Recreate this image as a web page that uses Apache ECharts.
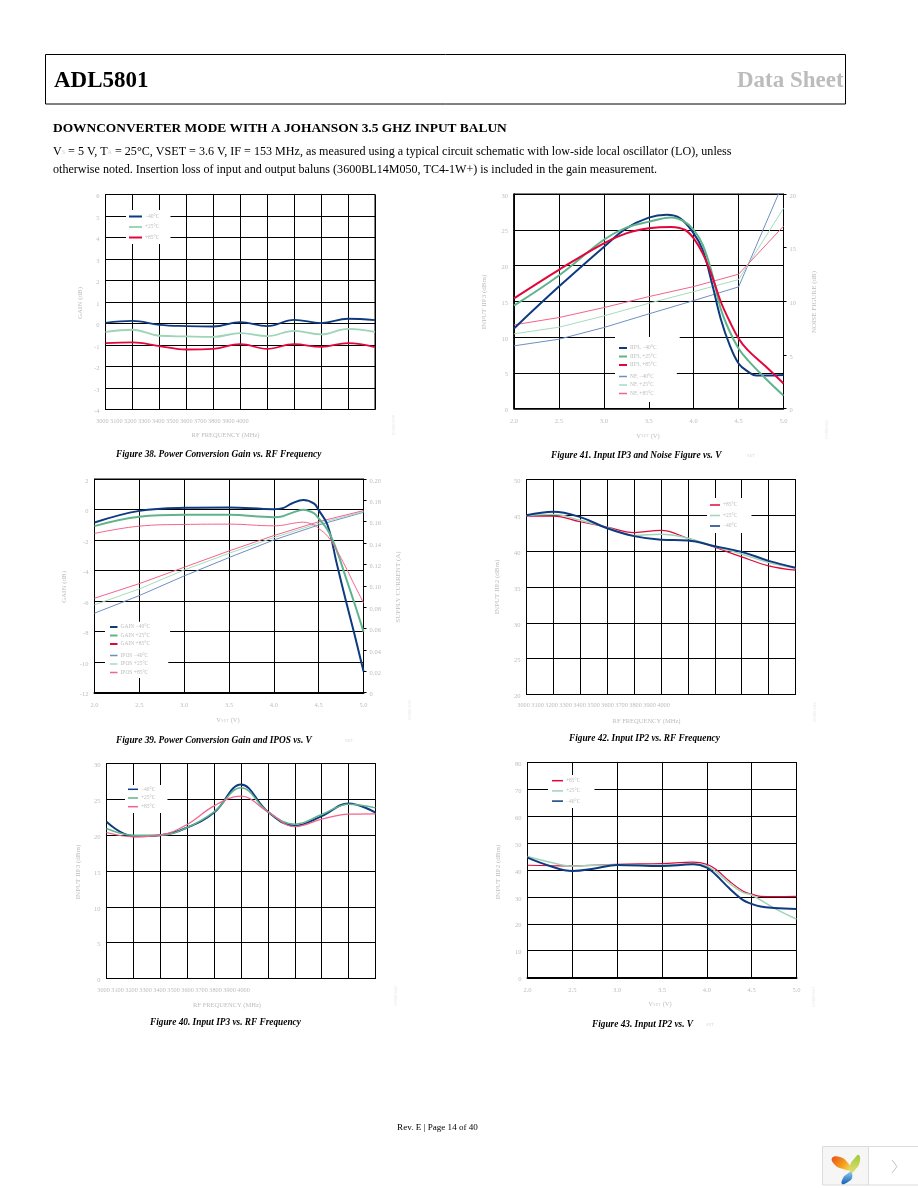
<!DOCTYPE html>
<html><head><meta charset="utf-8"><title>ADL5801 Data Sheet</title>
<style>html,body{margin:0;padding:0;background:#fff}#c{width:918px;height:1188px}</style>
<script src="https://cdn.jsdelivr.net/npm/echarts@6/dist/echarts.min.js"></script>
</head><body><div id="c"></div>
<script>
// ---- Data ----
const freqTicks = [3000,3100,3200,3300,3400,3500,3600,3700,3800,3900,4000];

const gainFreqM40 = [0.03,0.12,-0.06,-0.12,-0.14,0.06,-0.12,0.17,0.02,0.22,0.16];
const gainFreqP25 = [-0.39,-0.29,-0.57,-0.60,-0.62,-0.45,-0.59,-0.34,-0.51,-0.25,-0.39];
const gainFreqP85 = [-0.91,-0.88,-1.05,-1.21,-1.18,-0.96,-1.18,-0.96,-1.09,-0.91,-1.10];

const ip3FreqM40 = [21.86,19.86,20.0,21.07,23.16,27.07,23.26,21.3,22.65,24.42,23.16];
const ip3FreqP25 = [20.93,20.0,20.0,21.07,23.26,26.6,23.26,21.53,22.88,24.33,23.81];
const ip3FreqP85 = [20.37,19.77,20.0,21.49,24.09,25.44,23.26,21.2,22.23,22.93,22.98];

const ip2FreqM40 = [45.0,45.5,44.75,43.2,42.1,41.6,41.5,40.7,39.9,38.65,37.7];
const ip2FreqP25 = [44.95,45.1,44.3,43.3,42.2,42.35,41.8,40.65,39.6,38.4,37.6];
const ip2FreqP85 = [44.9,44.9,44.1,43.35,42.6,42.9,41.8,40.55,39.2,37.95,37.35];

const ip3VsetM40X = [2.0,2.5,3.0,3.25,3.5,3.7,3.85,4.0,4.1,4.2,4.3,4.4,4.5,4.6,4.7,4.8,5.0];
const ip3VsetM40  = [11.2,17.05,22.6,25.2,26.7,27.1,26.6,24.5,22.2,17.7,12.6,8.9,6.3,5.2,4.6,4.6,4.7];
const ip3VsetP25X = [2.0,2.5,3.0,3.25,3.5,3.75,3.9,4.0,4.1,4.2,4.3,4.4,4.5,4.6,4.8,5.0];
const ip3VsetP25  = [14.4,18.6,23.6,25.3,26.1,26.7,26.1,25.0,22.9,19.1,14.0,10.8,8.4,6.8,4.2,1.8];
const ip3VsetP85  = [15.4,19.4,23.1,24.5,25.2,25.4,25.0,23.8,21.7,18.7,15.0,12.2,9.8,8.2,5.9,3.5];
const nfX    = [2.0,2.5,3.0,3.5,4.0,4.5,5.0];
const nfM40  = [5.84,6.46,7.55,8.82,10.06,11.34,21.1];
const nfP25  = [6.96,7.58,8.63,9.81,10.9,12.02,18.66];
const nfP85  = [7.8,8.48,9.41,10.43,11.37,12.52,17.0];

const gainVsetX  = [2.0,2.5,3.0,3.5,4.0,4.1,4.2,4.33,4.45,4.5,4.6,4.7,4.8,4.9,5.0];
const gainVsetM40 = [-0.85,-0.09,0.11,0.13,0.02,0.09,0.39,0.63,0.39,-0.04,-1.03,-3.5,-5.9,-8.2,-10.6];
const gainVsetP25 = [-1.09,-0.48,-0.35,-0.35,-0.5,-0.44,-0.22,-0.02,-0.26,-0.59,-1.35,-2.66,-4.41,-6.16,-8.01];
const gainVsetP85 = [-1.57,-1.09,-0.98,-0.96,-1.07,-1.03,-0.92,-0.83,-1.03,-1.24,-1.75,-2.66,-3.76,-4.96,-6.11];
const iposX   = [2.0,2.5,3.0,3.5,4.0,4.5,5.0];
const iposM40 = [0.0743,0.0908,0.1092,0.1264,0.1429,0.1569,0.1688];
const iposP25 = [0.0821,0.097,0.1148,0.1304,0.1451,0.1585,0.1694];
const iposP85 = [0.0883,0.102,0.1173,0.1326,0.147,0.16,0.1704];

const ip2VsetP85X = [2.0,2.5,3.0,3.5,3.85,4.0,4.1,4.25,4.4,4.5,4.6,4.75,5.0];
const ip2VsetP85  = [41.76,41.5,42.1,42.4,42.9,42.1,40.3,35.9,32.2,31.0,30.2,30.1,30.2];
const ip2VsetP25X = [2.0,2.25,2.5,3.0,3.5,3.85,4.0,4.1,4.25,4.4,4.5,4.75,5.0];
const ip2VsetP25  = [45.0,42.9,41.5,42.0,41.8,42.3,41.5,39.4,35.1,31.7,30.7,25.8,21.7];
const ip2VsetM40X = [2.0,2.25,2.5,2.75,3.0,3.5,3.85,4.0,4.1,4.25,4.4,4.5,4.6,4.75,5.0];
const ip2VsetM40  = [44.6,41.5,39.65,40.6,41.9,41.5,42.1,40.9,38.2,33.2,28.9,27.4,26.4,25.9,25.5];

// ---- Styling ----
const BLUE='#0e3a80', GREEN='#5fb48c', PALE='#9ed4b8', RED='#e2063a', PINK='#f2648a', LBLUE='#6e8fc6', LGREEN='#a6dcc0';
const SERIF='"Liberation Serif", serif';
const FAINT='#bdbdbd';
const zip=(xs,ys)=>xs.map((x,i)=>[x,ys[i]]);

const option={animation:false,backgroundColor:'#fff',grid:[],xAxis:[],yAxis:[],series:[],legend:[],graphic:{elements:[]}};
const G=option.graphic.elements;
function text(x,y,t,o){o=o||{};
  G.push({type:'text',x:x,y:y,rotation:o.rot||0,silent:true,z:10,style:{text:t,fill:o.color||'#000',font:(o.font||'10px '+SERIF),align:o.align||'left',verticalAlign:'middle',rich:o.rich}});
}
function addChart(c){
  const gi=option.grid.length;
  const [l,t,r,b]=c.box;
  option.grid.push({left:l,top:t,width:r-l,height:b-t,show:true,borderColor:'#000',borderWidth:1,backgroundColor:'#fff',containLabel:false});
  const xi=option.xAxis.length;
  const hideX=c.freq;
  option.xAxis.push({type:'value',gridIndex:gi,min:c.x[0],max:c.x[1],interval:c.x[2],
    axisLine:{show:true,onZero:false,lineStyle:{color:'#000',width:c.bottomW||1}},axisTick:{show:false},
    splitLine:{show:true,lineStyle:{color:'#000',width:1}},
    axisLabel:{show:!hideX,color:FAINT,fontFamily:SERIF,fontSize:6.5,margin:9,hideOverlap:false,showMinLabel:true,showMaxLabel:true,
      formatter:v=>v.toFixed(1)}});
  const yi=option.yAxis.length;
  option.yAxis.push({type:'value',gridIndex:gi,min:c.y[0],max:c.y[1],interval:c.y[2],
    axisLine:{show:true,onZero:false,lineStyle:{color:'#000',width:c.leftW||1}},axisTick:{show:false},
    splitLine:{show:true,lineStyle:{color:'#000',width:1}},
    axisLabel:{color:FAINT,fontFamily:SERIF,fontSize:6.5,margin:6,verticalAlign:'top',padding:[-1.5,0,0,0],hideOverlap:false,showMinLabel:true,showMaxLabel:true}});
  let y2i=yi;
  if(c.y2){
    y2i=option.yAxis.length;
    option.yAxis.push({type:'value',gridIndex:gi,position:'right',min:c.y2[0],max:c.y2[1],interval:c.y2[2],
      axisLine:{show:true,lineStyle:{color:'#000',width:1}},axisTick:{show:true,inside:false,length:3,lineStyle:{color:'#000',width:1}},
      splitLine:{show:false},
      axisLabel:{color:FAINT,fontFamily:SERIF,fontSize:6.5,margin:6,verticalAlign:'top',padding:[-1.5,0,0,0],hideOverlap:false,showMinLabel:true,showMaxLabel:true,
        formatter:c.y2fmt||(v=>''+v)}});
  }
  c.series.forEach(s=>{
    option.series.push({type:'line',name:c.id+'|'+s.name,xAxisIndex:xi,yAxisIndex:s.right?y2i:yi,data:s.data,
      symbol:'none',clip:true,smooth:s.smooth===undefined?0.4:s.smooth,
      lineStyle:{color:s.color,width:s.w},itemStyle:{color:s.color},emphasis:{disabled:true},z:s.z||3});
  });
  (c.legends||[]).forEach(L=>{
    const lg={orient:'vertical',left:L.left,top:L.top,icon:'rect',itemWidth:L.iw,itemHeight:L.ih,itemGap:L.gap,padding:L.pad,backgroundColor:'#fff',
      selectedMode:false,z:6,
      textStyle:{color:FAINT,fontFamily:SERIF,fontSize:5.5,lineHeight:7,padding:[0,0,0,-2]},
      formatter:n=>n.split('|')[1],
      data:L.items.map(it=>{
        const d={name:c.id+'|'+it.name};
        if(it.color) {d.itemStyle={color:it.color};}
        return d;})};
    option.legend.push(lg);
  });
  // axis titles
  if(c.freq){
    freqTicks.forEach((v,i)=>text(c.fx+i*14,c.fy,String(v),{color:FAINT,font:'6.3px '+SERIF}));
  }
  text(c.xt[0],c.xt[1],c.xtitle,{color:FAINT,font:'6.5px '+SERIF,align:'center',rich:c.xrich});
  text(c.yt[0],c.yt[1],c.ytitle,{color:FAINT,font:'7px '+SERIF,align:'center',rot:Math.PI/2});
  if(c.y2t) text(c.y2t[0],c.y2t[1],c.y2title,{color:FAINT,font:'7px '+SERIF,align:'center',rot:Math.PI/2});
  text(c.idp[0],c.idp[1],c.idt,{color:'#e4e4e4',font:'4.5px '+SERIF,align:'center',rot:Math.PI/2});
}

const FX=freqTicks;
const xVset={xtitle:'V{s|SET} (V)',xrich:{s:{fill:'#d0d0d0',font:'4.5px '+SERIF}}};

// Figure 38
addChart({id:'f38',box:[105.5,194.5,375,409.5],x:[3000,4000,100],y:[-4,6,1],freq:true,fx:96,fy:421.7,
  xtitle:'RF FREQUENCY (MHz)',xt:[225.5,435.5],ytitle:'GAIN (dB)',yt:[80,303],idp:[394,425],idt:'09366-038',
  series:[{name:'−40°C',data:zip(FX,gainFreqM40),color:BLUE,w:1.8},{name:'+25°C',data:zip(FX,gainFreqP25),color:PALE,w:1.8},{name:'+85°C',data:zip(FX,gainFreqP85),color:RED,w:1.8}],
  legends:[{left:126,top:210,iw:13,ih:2,gap:3.5,pad:[3,11,3,3],items:[{name:'−40°C'},{name:'+25°C'},{name:'+85°C'}]}]});

// Figure 41
addChart(Object.assign({id:'f41',box:[514,194,783.5,408.5],x:[2,5,0.5],y:[0,30,5],y2:[0,20,5],leftW:1.6,bottomW:1.6,
  xt:[648,436],ytitle:'INPUT IIP3 (dBm)',yt:[484,302],y2title:'NOISE FIGURE (dB)',y2t:[814,302],idp:[827,429],idt:'09366-041',
  series:[
   {name:'NF, −40°C',data:zip(nfX,nfM40),color:LBLUE,w:1,right:true,smooth:false},
   {name:'NF, +25°C',data:zip(nfX,nfP25),color:LGREEN,w:1,right:true,smooth:false},
   {name:'NF, +85°C',data:zip(nfX,nfP85),color:PINK,w:1,right:true,smooth:false},
   {name:'IIP3, −40°C',data:zip(ip3VsetM40X,ip3VsetM40),color:BLUE,w:2},
   {name:'IIP3, +25°C',data:zip(ip3VsetP25X,ip3VsetP25),color:GREEN,w:2},
   {name:'IIP3, +85°C',data:zip(ip3VsetP25X,ip3VsetP85),color:RED,w:2}],
  legends:[{left:615,top:337,iw:8,ih:2,gap:1.5,pad:[7.5,23,2,4],items:[{name:'IIP3, −40°C'},{name:'IIP3, +25°C'},{name:'IIP3, +85°C'}]},
           {left:615,top:370,iw:8,ih:1.5,gap:1.5,pad:[3,23,5,4],items:[{name:'NF, −40°C'},{name:'NF, +25°C'},{name:'NF, +85°C'}]}]},xVset));

// Figure 39
addChart(Object.assign({id:'f39',box:[94.5,479,363.5,692.5],x:[2,5,0.5],y:[-12,2,2],y2:[0,0.2,0.02],y2fmt:v=>v===0?'0':v.toFixed(2),bottomW:2,
  xt:[228,720.5],ytitle:'GAIN (dB)',yt:[64,587],y2title:'SUPPLY CURRENT (A)',y2t:[398,587],idp:[410,710],idt:'09366-039',
  series:[
   {name:'IPOS −40°C',data:zip(iposX,iposM40),color:LBLUE,w:1,right:true,smooth:false},
   {name:'IPOS +25°C',data:zip(iposX,iposP25),color:LGREEN,w:1,right:true,smooth:false},
   {name:'IPOS +85°C',data:zip(iposX,iposP85),color:PINK,w:1,right:true,smooth:false},
   {name:'GAIN −40°C',data:zip(gainVsetX,gainVsetM40),color:BLUE,w:2},
   {name:'GAIN +25°C',data:zip(gainVsetX,gainVsetP25),color:GREEN,w:2},
   {name:'GAIN +85°C',data:zip(gainVsetX,gainVsetP85),color:PINK,w:1}],
  legends:[{left:105,top:621.7,iw:7.5,ih:2,gap:1.5,pad:[1.8,20,3,5],items:[{name:'GAIN −40°C'},{name:'GAIN +25°C'},{name:'GAIN +85°C',color:RED}]},
           {left:105,top:650,iw:7.5,ih:1.5,gap:1.5,pad:[2,20,2,5],items:[{name:'IPOS −40°C'},{name:'IPOS +25°C'},{name:'IPOS +85°C'}]}]},xVset));

// Figure 42
addChart({id:'f42',box:[526.5,479.5,795.5,694.5],x:[3000,4000,100],y:[20,50,5],freq:true,fx:517.3,fy:705.7,
  xtitle:'RF FREQUENCY (MHz)',xt:[646.5,721],ytitle:'INPUT IIP2 (dBm)',yt:[497,587],idp:[815,712],idt:'09366-042',
  series:[{name:'+85°C',data:zip(FX,ip2FreqP85),color:RED,w:1.2},{name:'+25°C',data:zip(FX,ip2FreqP25),color:PALE,w:1.5},{name:'−40°C',data:zip(FX,ip2FreqM40),color:BLUE,w:2}],
  legends:[{left:707,top:498,iw:10,ih:1.5,gap:3.5,pad:[3.5,14,3.5,3],items:[{name:'+85°C'},{name:'+25°C'},{name:'−40°C'}]}]});

// Figure 40
addChart({id:'f40',box:[106.5,763.5,375.5,978.5],x:[3000,4000,100],y:[0,30,5],freq:true,fx:97.3,fy:990.7,
  xtitle:'RF FREQUENCY (MHz)',xt:[227,1005],ytitle:'INPUT IIP3 (dBm)',yt:[78,872],idp:[396,996],idt:'09366-040',
  series:[{name:'−40°C',data:zip(FX,ip3FreqM40),color:BLUE,w:2},{name:'+25°C',data:zip(FX,ip3FreqP25),color:GREEN,w:1.5},{name:'+85°C',data:zip(FX,ip3FreqP85),color:PINK,w:1.2}],
  legends:[{left:125,top:785,iw:10,ih:1.5,gap:1.7,pad:[0.8,12,2.8,3],items:[{name:'−40°C'},{name:'+25°C'},{name:'+85°C'}]}]});

// Figure 43
addChart(Object.assign({id:'f43',box:[527.5,762.5,796.5,977.5],x:[2,5,0.5],y:[0,80,10],bottomW:2,
  xt:[660,1004.5],ytitle:'INPUT IIP2 (dBm)',yt:[498,872],idp:[814,997],idt:'09366-043',
  series:[{name:'+85°C',data:zip(ip2VsetP85X,ip2VsetP85),color:RED,w:1.2},{name:'+25°C',data:zip(ip2VsetP25X,ip2VsetP25),color:PALE,w:1.5},{name:'−40°C',data:zip(ip2VsetM40X,ip2VsetM40),color:BLUE,w:2}],
  legends:[{left:548,top:775,iw:11,ih:1.5,gap:3.2,pad:[2.2,14,3.4,4],items:[{name:'+85°C'},{name:'+25°C'},{name:'−40°C'}]}]},xVset));

// ---- Page furniture ----
G.push({type:'rect',silent:true,z:1,shape:{x:45.5,y:54.5,width:800,height:49.5},style:{fill:'none',stroke:'#000',lineWidth:1}});
text(54,81.5,'ADL5801',{font:'bold 23px '+SERIF});
text(737,81.5,'Data Sheet',{font:'bold 23px '+SERIF,color:'#bcbcbc'});
text(53,129,'DOWNCONVERTER MODE WITH A JOHANSON 3.5 GHZ INPUT BALUN',{font:'bold 13.4px '+SERIF});
const subRich={s:{fill:'#cfcfcf',font:'6px '+SERIF}};
text(53,152,'V{s|S} = 5 V, T{s|A} = 25°C, VSET = 3.6 V, IF = 153 MHz, as measured using a typical circuit schematic with low-side local oscillator (LO), unless',{font:'12.1px '+SERIF,rich:subRich});
text(53,170,'otherwise noted. Insertion loss of input and output baluns (3600BL14M050, TC4-1W+) is included in the gain measurement.',{font:'12.07px '+SERIF});
const CAP='italic bold 9.3px '+SERIF;
text(116,454.5,'Figure 38. Power Conversion Gain vs. RF Frequency',{font:CAP});
text(551,455.5,'Figure 41. Input IP3 and Noise Figure vs. V',{font:CAP});
text(747,456,'SET',{font:'4.5px '+SERIF,color:'#d8d8d8'});
text(116,740.5,'Figure 39. Power Conversion Gain and IPOS vs. V',{font:CAP});
text(345,740.5,'SET',{font:'4.5px '+SERIF,color:'#d8d8d8'});
text(569,738.5,'Figure 42. Input IP2 vs. RF Frequency',{font:CAP});
text(150,1023,'Figure 40. Input IP3 vs. RF Frequency',{font:CAP});
text(592,1025,'Figure 43. Input IP2 vs. V',{font:CAP});
text(706,1025,'SET',{font:'4.5px '+SERIF,color:'#d8d8d8'});
text(437.5,1128,'Rev. E | Page 14 of 40',{font:'9.1px '+SERIF,align:'center'});

// corner badge
G.push({type:'rect',silent:true,z:1,shape:{x:822.5,y:1146.5,width:46,height:38.5},style:{fill:'#f6f6f6',stroke:'#dcdcdc',lineWidth:1}});
G.push({type:'rect',silent:true,z:1,shape:{x:868.5,y:1146.5,width:50,height:38.5},style:{fill:'#fff',stroke:'#dcdcdc',lineWidth:1}});
G.push({type:'polyline',silent:true,z:2,shape:{points:[[892,1160],[897,1166.5],[892,1173]]},style:{stroke:'#c4c4c4',lineWidth:1,fill:'none'}});
G.push({type:'polygon',silent:true,z:2,shape:{points:[[832,1158],[840,1157],[848,1163],[851,1170],[843,1169],[835,1165]],smooth:0.5},
  style:{fill:{type:'linear',x:0,y:0,x2:1,y2:1,colorStops:[{offset:0,color:'#e8501c'},{offset:0.6,color:'#f4a21e'},{offset:1,color:'#f8e070'}]}}});
G.push({type:'polygon',silent:true,z:2,shape:{points:[[859,1155],[859.5,1163],[855,1170],[851,1173],[850,1166],[854,1159]],smooth:0.5},
  style:{fill:{type:'linear',x:0,y:0,x2:0,y2:1,colorStops:[{offset:0,color:'#a4c93c'},{offset:1,color:'#e0e070'}]}}});
G.push({type:'polygon',silent:true,z:2,shape:{points:[[851,1172],[852,1178],[848,1182],[842,1184],[843,1178],[847,1174]],smooth:0.5},
  style:{fill:{type:'linear',x:0,y:0,x2:0,y2:1,colorStops:[{offset:0,color:'#8ec8e8'},{offset:1,color:'#1060b8'}]}}});

const chart=echarts.init(document.getElementById('c'),null,{renderer:'canvas'});
chart.setOption(option);
</script></body></html>
